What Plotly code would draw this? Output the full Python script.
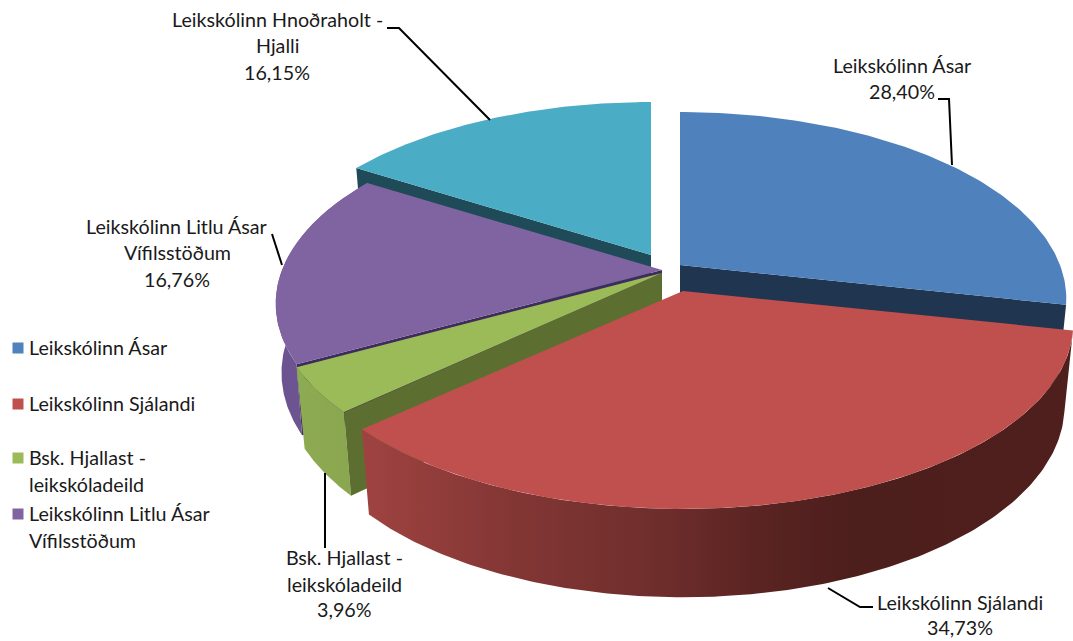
import numpy as np
import plotly.graph_objects as go

# ---- data ----
labels = ["Leikskólinn Ásar", "Leikskólinn Sjálandi", "Bsk. Hjallast - leikskóladeild",
          "Leikskólinn Litlu Ásar Vífilsstöðum", "Leikskólinn Hnoðraholt - Hjalli"]
values = [28.40, 34.73, 3.96, 16.76, 16.15]
top_colors = ["#4f81bd", "#c0504d", "#9bbb59", "#8064a2", "#4bacc6"]
radial_colors = ["#1f3550", "#4d1f1e", "#5c6f30", "#3d2c5c", "#1f4a57"]
apex_x = [680, 683, 662, 662, 651]
apex_y = [265, 291, 273, 270, 255]
scale_x = [1.0, 1.01, 1.0, 1.0, 1.0]
scale_y = [1.0, 0.99, 1.0, 1.0, 1.0]
shrink = [0.978, 0.978, 0.978, 0.985, 0.978]
depths = [80.0, 80.0, 78.0, 68.0, 80.0]
legend_lines = [["Leikskólinn Ásar"], ["Leikskólinn Sjálandi"],
                ["Bsk. Hjallast -", "leikskóladeild"],
                ["Leikskólinn Litlu Ásar", "Vífilsstöðum"]]
legend_y = [[347], [403], [457, 484], [513, 540]]
data_label_lines = [["Leikskólinn Ásar"], ["Leikskólinn Sjálandi"],
                    ["Bsk. Hjallast -", "leikskóladeild"],
                    ["Leikskólinn Litlu Ásar", "Vífilsstöðum"],
                    ["Leikskólinn Hnoðraholt -", "Hjalli"]]
data_label_x = [902, 960, 344, 177, 277]
data_label_y = [[65, 91], [602, 627], [557, 584, 609], [226, 252, 279], [19, 45, 72]]
leaders = [[(938, 99), (949, 99), (952, 165)],
           [(828, 588), (860, 607), (873, 607)],
           [(325, 473), (325, 548)],
           [(272, 234), (282, 265)],
           [(387, 28), (399, 28), (490, 120)]]

# ---- projection of the tilted disc ----
RX, RY, K = 380.0, 180.5, 0.18
FONT = "Lato, Carlito, Calibri, sans-serif"
FS = 19.7
TEXT = "#1a1a1a"


def project(i, theta_deg, bottom=False):
    t = np.radians(np.asarray(theta_deg, dtype=float))
    u, v = np.sin(t), np.cos(t)
    s = 1.0 / (1.0 + K * v)
    x = RX * scale_x[i] * u * s
    y = -RY * scale_y[i] * v * s
    if bottom:
        return apex_x[i] + x * shrink[i], apex_y[i] + y + depths[i] * np.sqrt(s)
    return apex_x[i] + x, apex_y[i] + y


def poly(x, y, color=None, gradient=None):
    kw = dict(fillcolor=color) if gradient is None else dict(
        fillgradient=dict(type="horizontal", colorscale=gradient))
    return go.Scatter(x=list(x), y=list(y), mode="lines", fill="toself",
                      line=dict(width=0), hoverinfo="skip", showlegend=False, **kw)


total = sum(values)
edges = np.concatenate([[0], np.cumsum(values) / total * 360])
fig = go.Figure()


def add_top(i):
    th = np.linspace(edges[i], edges[i + 1], 120)
    x, y = project(i, th)
    fig.add_trace(poly(np.r_[apex_x[i], x], np.r_[apex_y[i], y], top_colors[i]))


def add_radial(i, angle):
    ax, ay = apex_x[i], apex_y[i]
    ex, ey = project(i, angle)
    bx, by = project(i, angle, bottom=True)
    fig.add_trace(poly([ax, ex, bx, ax], [ay, ey, by, ay + depths[i]], radial_colors[i]))


def add_outer(i, a0, a1, color=None, gradient=None):
    th = np.linspace(a0, a1, 160)
    x, y = project(i, th)
    xb, yb = project(i, th, bottom=True)
    fig.add_trace(poly(np.r_[x, xb[::-1]], np.r_[y, yb[::-1]], color, gradient))


# back to front: teal, purple, blue, green, red
add_radial(4, edges[4]); add_top(4)
add_radial(3, edges[3])
add_outer(3, edges[3], edges[4],
          gradient=[[0, "#6b5390"], [0.5, "#6f5692"], [1, "#76599a"]])
add_top(3)
add_radial(0, edges[1]); add_top(0)
add_outer(2, edges[2], edges[3], gradient=[[0, "#8dab52"], [1, "#8aa74f"]])
add_radial(2, edges[2]); add_top(2)
add_outer(1, edges[1], edges[2],
          gradient=[[0, "#9f4341"], [0.2, "#843735"], [0.41, "#6f2e2c"],
                    [0.56, "#5a2422"], [0.69, "#4c1e1c"], [1, "#4f1f1d"]])
add_top(1)

# leader lines
for pts in leaders:
    fig.add_trace(go.Scatter(x=[p[0] for p in pts], y=[p[1] for p in pts], mode="lines",
                             line=dict(color="#000000", width=2), hoverinfo="skip", showlegend=False))

# legend squares
fig.add_trace(go.Scatter(x=[18] * 4, y=[ys[0] + 1 for ys in legend_y], mode="markers",
                         marker=dict(symbol="square", size=11, color=top_colors[:4], line=dict(width=0)),
                         hoverinfo="skip", showlegend=False))

ann = []
for lines, ys in zip(legend_lines, legend_y):
    for t, y in zip(lines, ys):
        ann.append(dict(x=27, y=y, text=t, xanchor="left", yanchor="middle", showarrow=False))
for i, (lines, ys) in enumerate(zip(data_label_lines, data_label_y)):
    pct = f"{values[i]:.2f}".replace(".", ",") + "%"
    for t, y in zip(lines + [pct], ys):
        ann.append(dict(x=data_label_x[i], y=y, text=t, xanchor="center", yanchor="middle", showarrow=False))
for a in ann:
    a.update(xref="x", yref="y", font=dict(family=FONT, size=FS, color=TEXT))

fig.update_layout(width=1073, height=641, autosize=False,
                  margin=dict(l=0, r=0, t=0, b=0), paper_bgcolor="white", plot_bgcolor="white",
                  xaxis=dict(range=[0, 1073], visible=False, fixedrange=True),
                  yaxis=dict(range=[641, 0], visible=False, fixedrange=True),
                  showlegend=False, annotations=ann)
fig.write_html("out.html", config={"displayModeBar": False},
               post_script="document.body.style.margin='0';document.documentElement.style.overflow='hidden';")
